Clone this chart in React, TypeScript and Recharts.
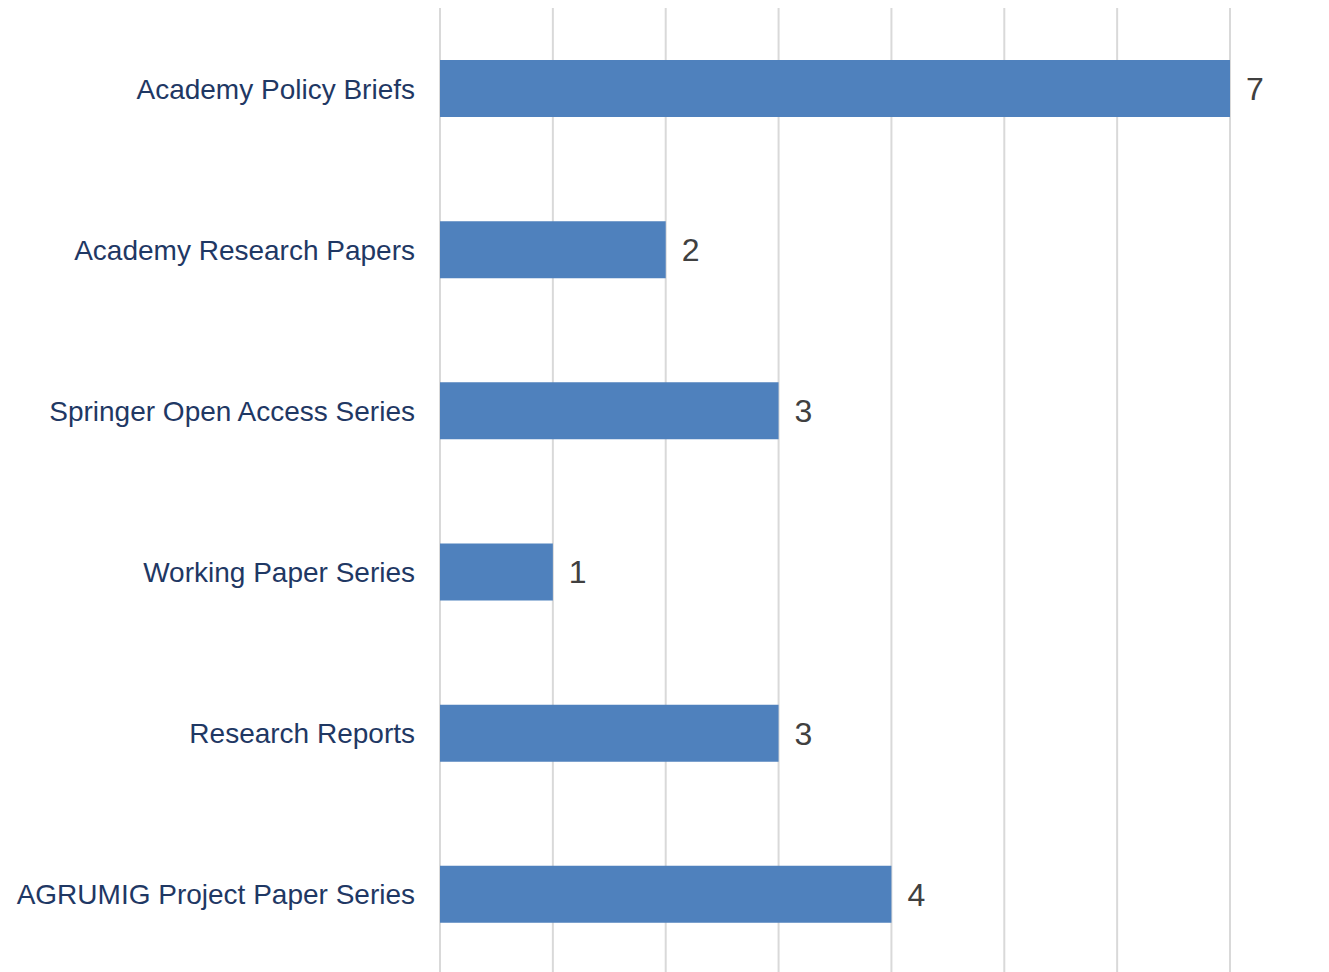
import React from 'react';
import { BarChart, Bar, XAxis, YAxis, CartesianGrid, LabelList } from 'recharts';

const series = [
  'Academy Policy Briefs',
  'Academy Research Papers',
  'Springer Open Access Series',
  'Working Paper Series',
  'Research Reports',
  'AGRUMIG Project Paper Series',
];
const counts = [7, 2, 3, 1, 3, 4];
const xTicks = [0, 1, 2, 3, 4, 5, 6, 7];

const data = series.map((name, i) => ({ name, count: counts[i] }));

export default function App() {
  return (
    <div style={{ position: 'absolute', left: 0, top: 0, width: 1329, height: 972, overflow: 'hidden', background: '#fff' }}>
      <BarChart
        width={1329}
        height={975}
        data={data}
        layout="vertical"
        margin={{ top: 8, right: 99, left: 0, bottom: 0 }}
        barSize={57}
      >
        <CartesianGrid vertical horizontal={false} stroke="#D9D9D9" strokeWidth={2} />
        <XAxis type="number" domain={[0, 7]} ticks={xTicks} hide />
        <YAxis
          type="category"
          dataKey="name"
          width={440}
          axisLine={false}
          tickLine={false}
          tickSize={0}
          tickMargin={25}
          tick={{ fill: '#1F3864', fontSize: 28, fontFamily: 'Liberation Sans, Arial, sans-serif' }}
        />
        <Bar dataKey="count" fill="#4F81BD" isAnimationActive={false}>
          <LabelList
            dataKey="count"
            position="right"
            offset={16}
            fill="#404040"
            fontSize={32}
            fontFamily="Liberation Sans, Arial, sans-serif"
          />
        </Bar>
      </BarChart>
    </div>
  );
}
